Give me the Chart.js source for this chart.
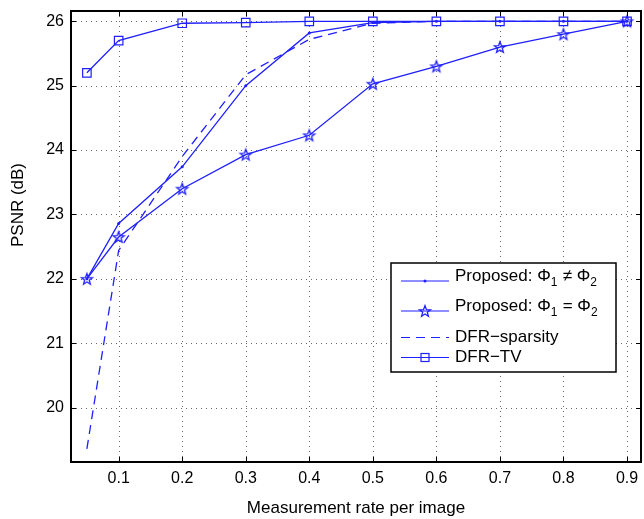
<!DOCTYPE html>
<html>
<head>
<meta charset="utf-8">
<script src="https://cdn.jsdelivr.net/npm/chart.js@4.4.1/dist/chart.umd.min.js"></script>
<style>
  html, body { margin: 0; padding: 0; background: #fff; }
  #wrap { width: 644px; height: 519px; position: relative; }
</style>
</head>
<body>
<div id="wrap"><canvas id="c" width="644" height="519"></canvas></div>
<script>
// ---- data ----
const rates = [0.05, 0.1, 0.2, 0.3, 0.4, 0.5, 0.6, 0.7, 0.8, 0.9];
const proposedDiff = [22.0, 22.86, 23.74, 25.0, 25.82, 25.98, 26.0, 26.0, 26.0, 26.0];
const proposedSame = [22.0, 22.65, 23.4, 23.93, 24.23, 25.03, 25.3, 25.6, 25.8, 26.0];
const dfrSparsity = [19.36, 22.44, 23.9, 25.17, 25.72, 25.97, 26.0, 26.0, 26.0, 26.0];
const dfrTV = [25.2, 25.7, 25.97, 25.98, 26.0, 26.0, 26.0, 26.0, 26.0, 26.0];
const xTicks = [0.1, 0.2, 0.3, 0.4, 0.5, 0.6, 0.7, 0.8, 0.9];
const yTicks = [20, 21, 22, 23, 24, 25, 26];
const xTickLabels = ['0.1', '0.2', '0.3', '0.4', '0.5', '0.6', '0.7', '0.8', '0.9'];
const yTickLabels = ['20', '21', '22', '23', '24', '25', '26'];
const xTitle = 'Measurement rate per image';
const yTitle = 'PSNR (dB)';
const legendLabels = [
  [['Proposed: Φ', 0], ['1', 1], [' ≠ Φ', 0], ['2', 1]],
  [['Proposed: Φ', 0], ['1', 1], [' = Φ', 0], ['2', 1]],
  [['DFR−sparsity', 0]],
  [['DFR−TV', 0]]
];

const BLUE = '#1f1fff';
const FONT = '"Liberation Sans", Arial, Helvetica, sans-serif';

function pts(ys) { return rates.map((x, i) => ({ x: x, y: ys[i] })); }

// pentagram marker
function makeStar(r) {
  const s = Math.ceil(r * 2 + 4);
  const cv = document.createElement('canvas');
  cv.width = s; cv.height = s;
  const g = cv.getContext('2d');
  const cx = s / 2, cy = s / 2 + 0.5, ri = r * 0.42;
  g.beginPath();
  for (let k = 0; k < 10; k++) {
    const a = -Math.PI / 2 + k * Math.PI / 5;
    const rr = k % 2 === 0 ? r : ri;
    const px = cx + rr * Math.cos(a), py = cy + rr * Math.sin(a);
    k === 0 ? g.moveTo(px, py) : g.lineTo(px, py);
  }
  g.closePath();
  g.strokeStyle = BLUE; g.lineWidth = 1.3;
  g.stroke();
  return cv;
}
const starImg = makeStar(5.8);

const frame = {
  id: 'frame',
  beforeDatasetsDraw(chart) {
    const { ctx, chartArea: a, scales: { x, y } } = chart;
    ctx.save();
    ctx.strokeStyle = '#6a6a6a';
    ctx.lineWidth = 1;
    ctx.setLineDash([1, 4]);
    xTicks.forEach(v => {
      const px = Math.round(x.getPixelForValue(v)) + 0.5;
      ctx.beginPath(); ctx.moveTo(px, a.top); ctx.lineTo(px, a.bottom); ctx.stroke();
    });
    yTicks.forEach(v => {
      const py = Math.round(y.getPixelForValue(v)) + 0.5;
      ctx.beginPath(); ctx.moveTo(a.left, py); ctx.lineTo(a.right, py); ctx.stroke();
    });
    ctx.restore();
  },
  afterDatasetsDraw(chart) {
    const { ctx, chartArea: a, scales: { x, y } } = chart;
    ctx.save();
    ctx.strokeStyle = '#000';
    ctx.lineWidth = 1;
    ctx.setLineDash([]);
    const tl = 5;
    xTicks.forEach(v => {
      const px = Math.round(x.getPixelForValue(v)) + 0.5;
      ctx.beginPath(); ctx.moveTo(px, a.bottom); ctx.lineTo(px, a.bottom - tl); ctx.stroke();
      ctx.beginPath(); ctx.moveTo(px, a.top); ctx.lineTo(px, a.top + tl); ctx.stroke();
    });
    yTicks.forEach(v => {
      const py = Math.round(y.getPixelForValue(v)) + 0.5;
      ctx.beginPath(); ctx.moveTo(a.left, py); ctx.lineTo(a.left + tl, py); ctx.stroke();
      ctx.beginPath(); ctx.moveTo(a.right, py); ctx.lineTo(a.right - tl, py); ctx.stroke();
    });
    ctx.lineWidth = 2;
    ctx.strokeRect(a.left, a.top, a.right - a.left, a.bottom - a.top);

    // tick labels
    ctx.fillStyle = '#000';
    ctx.font = '16px ' + FONT;
    ctx.textAlign = 'center';
    ctx.textBaseline = 'middle';
    xTicks.forEach((v, i) => ctx.fillText(xTickLabels[i], x.getPixelForValue(v), a.bottom + 17));
    ctx.textAlign = 'right';
    yTicks.forEach((v, i) => ctx.fillText(yTickLabels[i], a.left - 7, y.getPixelForValue(v)));

    // axis titles
    ctx.font = '17px ' + FONT;
    ctx.textAlign = 'center';
    ctx.textBaseline = 'middle';
    ctx.fillText(xTitle, (a.left + a.right) / 2, 508);
    ctx.save();
    ctx.translate(18, 205);
    ctx.rotate(-Math.PI / 2);
    ctx.fillText(yTitle, 0, 0);
    ctx.restore();

    // legend
    const bx = 391, by = 263, bw = 225, bh = 109;
    ctx.fillStyle = '#fff';
    ctx.fillRect(bx, by, bw, bh);
    ctx.lineWidth = 1.5;
    ctx.strokeStyle = '#000';
    ctx.strokeRect(bx, by, bw, bh);
    const lineY = [281, 311, 337.5, 357.5];
    const baseY = [281, 311, 342, 362];
    const x0 = 401, x1 = 449, tx = 455;
    chart.data.datasets.forEach((ds, i) => {
      const ly = lineY[i];
      ctx.strokeStyle = BLUE;
      ctx.lineWidth = 1.2;
      ctx.setLineDash(ds.borderDash || []);
      ctx.beginPath(); ctx.moveTo(x0, ly); ctx.lineTo(x1, ly); ctx.stroke();
      ctx.setLineDash([]);
      const mx = (x0 + x1) / 2;
      if (i === 0) {
        ctx.fillStyle = BLUE;
        ctx.beginPath(); ctx.arc(mx, ly, 1.5, 0, Math.PI * 2); ctx.fill();
      } else if (i === 1) {
        ctx.drawImage(starImg, mx - starImg.width / 2, ly - starImg.height / 2);
      } else if (i === 3) {
        ctx.lineWidth = 1.2;
        ctx.strokeRect(mx - 4, ly - 4, 8, 8);
      }
      ctx.fillStyle = '#000';
      ctx.textAlign = 'left';
      ctx.textBaseline = 'alphabetic';
      let cx = tx;
      legendLabels[i].forEach(([t, sub]) => {
        ctx.font = (sub ? '12px ' : '17px ') + FONT;
        ctx.fillText(t, cx, baseY[i] + (sub ? 5 : 0));
        cx += ctx.measureText(t).width + (sub ? 0.5 : 0);
      });
    });
    ctx.restore();
  }
};

new Chart(document.getElementById('c'), {
  type: 'line',
  data: {
    datasets: [
      { label: 'Proposed: Φ1 ≠ Φ2', data: pts(proposedDiff), borderColor: BLUE, backgroundColor: BLUE,
        borderWidth: 1.3, pointStyle: 'circle', pointRadius: 1.5, pointBorderWidth: 0 },
      { label: 'Proposed: Φ1 = Φ2', data: pts(proposedSame), borderColor: BLUE, backgroundColor: BLUE,
        borderWidth: 1.3, pointStyle: starImg, pointRadius: 6 },
      { label: 'DFR−sparsity', data: pts(dfrSparsity), borderColor: BLUE, backgroundColor: BLUE,
        borderWidth: 1.3, borderDash: [9, 6], pointRadius: 0 },
      { label: 'DFR−TV', data: pts(dfrTV), borderColor: BLUE, backgroundColor: 'rgba(0,0,0,0)',
        borderWidth: 1.3, pointStyle: 'rect', pointRadius: 6, pointBorderWidth: 1.2 }
    ]
  },
  options: {
    responsive: false,
    animation: false,
    devicePixelRatio: 1,
    layout: { autoPadding: false, padding: { top: 11, right: 3, left: 0, bottom: 0 } },
    plugins: { legend: { display: false }, tooltip: { enabled: false } },
    elements: { line: { tension: 0, fill: false } },
    scales: {
      x: {
        type: 'linear', min: 0.025, max: 0.922,
        grid: { display: false, drawTicks: false },
        border: { display: false },
        afterBuildTicks: s => { s.ticks = xTicks.map(v => ({ value: v })); },
        afterFit: s => { s.height = 57; },
        ticks: { display: false }
      },
      y: {
        type: 'linear', min: 19.155, max: 26.16,
        grid: { display: false, drawTicks: false },
        border: { display: false },
        afterBuildTicks: s => { s.ticks = yTicks.map(v => ({ value: v })); },
        afterFit: s => { s.width = 71; },
        ticks: { display: false }
      }
    }
  },
  plugins: [frame]
});
</script>
</body>
</html>
